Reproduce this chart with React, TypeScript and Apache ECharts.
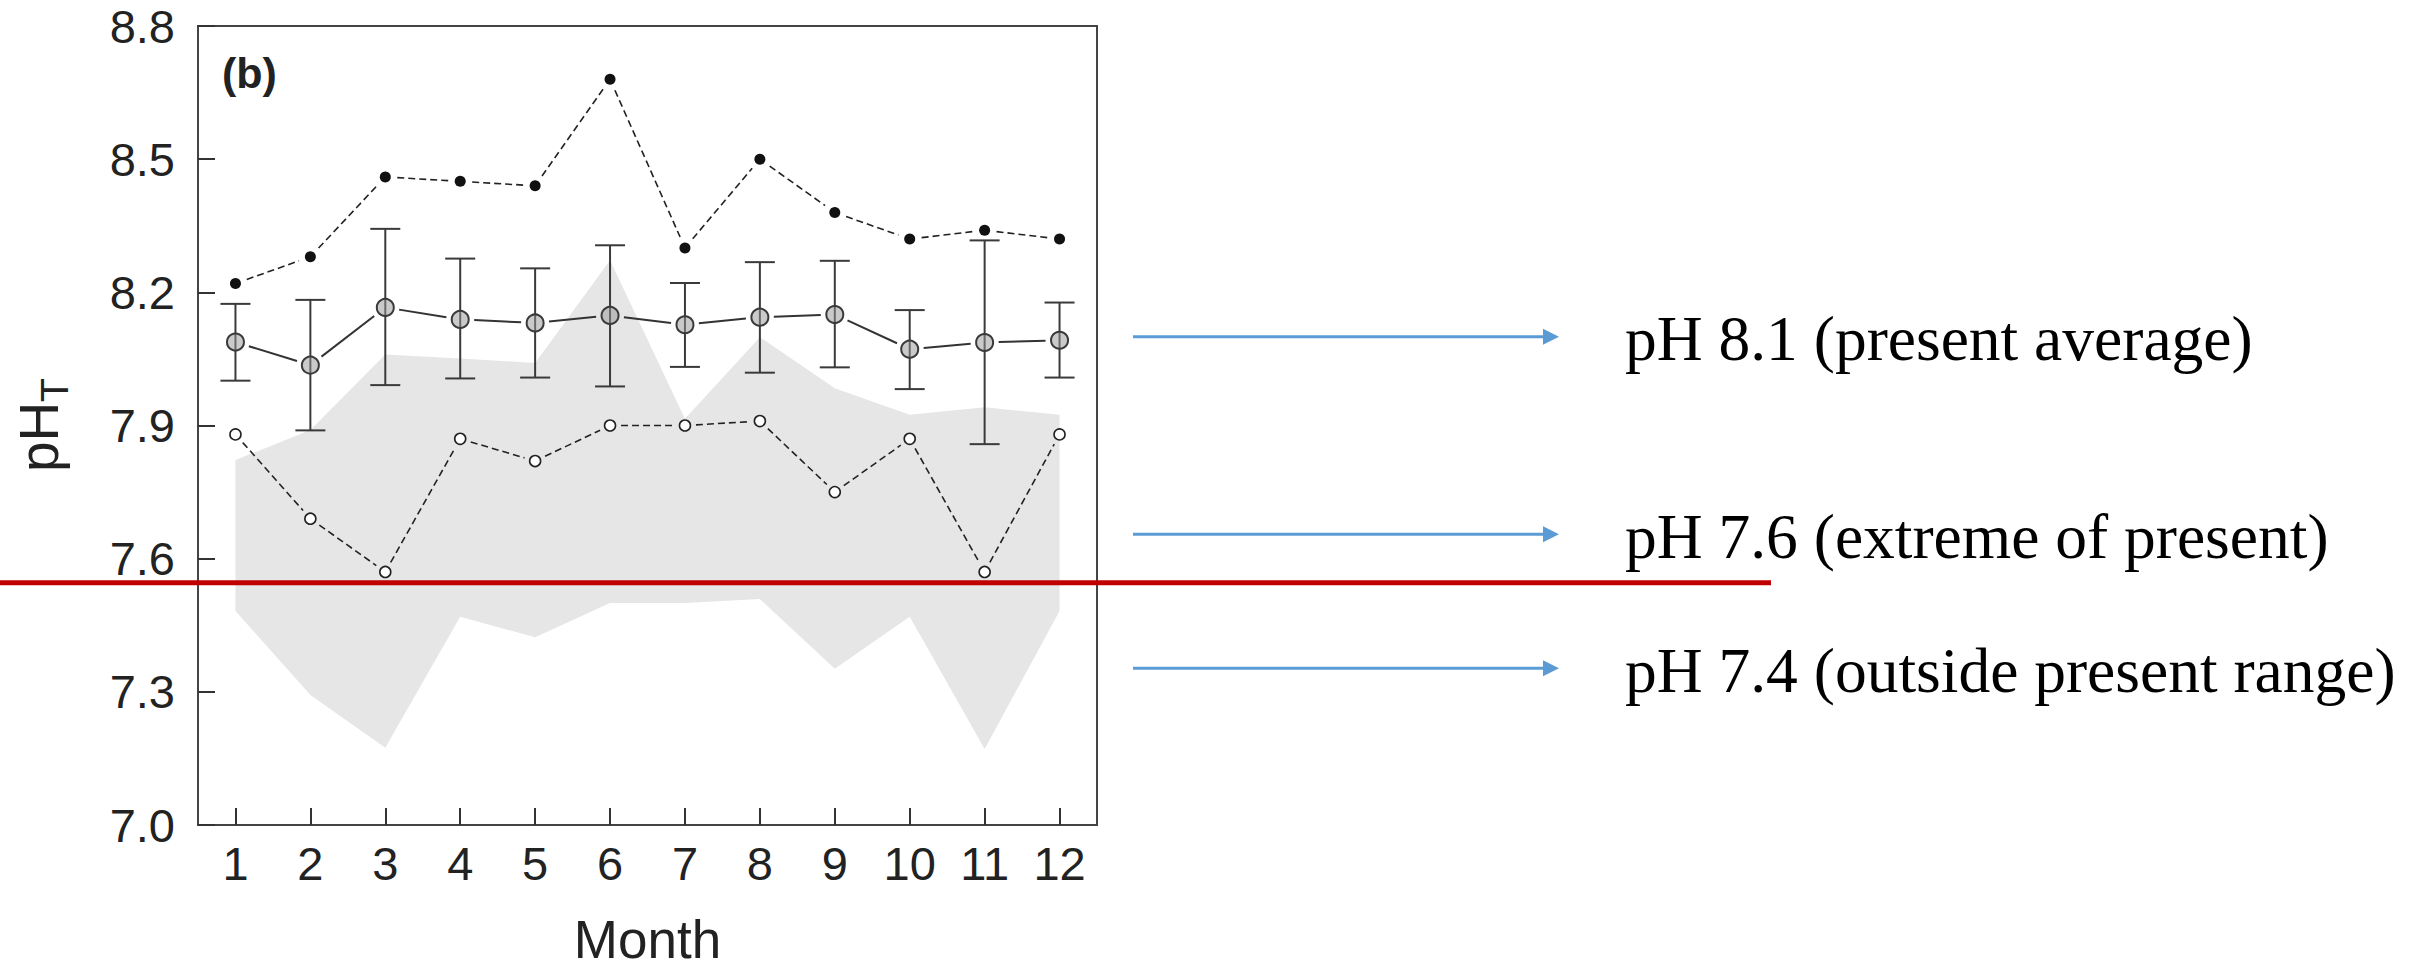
import React, { useEffect, useRef } from 'react';
import * as echarts from 'echarts';

// ---- data ----
const months = ['1', '2', '3', '4', '5', '6', '7', '8', '9', '10', '11', '12'];
const maxPH = [8.22, 8.28, 8.46, 8.45, 8.44, 8.68, 8.30, 8.50, 8.38, 8.32, 8.34, 8.32];
const meanPH = [8.088, 8.036, 8.166, 8.139, 8.131, 8.148, 8.127, 8.144, 8.150, 8.072, 8.087, 8.092];
const errLow = [8.001, 7.889, 7.991, 8.006, 8.008, 7.988, 8.032, 8.019, 8.031, 7.982, 7.858, 8.008];
const errHigh = [8.174, 8.183, 8.343, 8.276, 8.254, 8.306, 8.221, 8.268, 8.271, 8.160, 8.317, 8.177];
const minPH = [7.88, 7.69, 7.57, 7.87, 7.82, 7.90, 7.90, 7.91, 7.75, 7.87, 7.57, 7.88];
const bandUpper = [7.822, 7.890, 8.060, 8.051, 8.041, 8.272, 7.915, 8.099, 7.984, 7.924, 7.941, 7.924];
const bandLower = [7.482, 7.293, 7.174, 7.469, 7.423, 7.500, 7.500, 7.509, 7.352, 7.469, 7.171, 7.482];
const yMin = 7.0;
const yMax = 8.8;
const yStep = 0.3;
const annotationLevels = [8.1, 7.655, 7.353];
const annotationLabels = [
  'pH 8.1 (present average)',
  'pH 7.6 (extreme of present)',
  'pH 7.4 (outside present range)',
];
const thresholdPH = 7.546;

const SANS = '"Liberation Sans", Arial, sans-serif';
const SERIF = '"Liberation Serif", "Times New Roman", serif';
const INK = '#222';

function gapLine(values: number[], gap: number, dash: number[] | null, width: number, color: string, z: number) {
  return {
    type: 'custom',
    z,
    silent: true,
    coordinateSystem: 'cartesian2d',
    data: values.map((v, i) => [i, v]),
    encode: { x: 0, y: 1 },
    renderItem: (params: any, api: any) => {
      const i = params.dataIndex;
      if (i >= values.length - 1) return { type: 'group', children: [] };
      const a = api.coord([i, values[i]]);
      const b = api.coord([i + 1, values[i + 1]]);
      const dx = b[0] - a[0];
      const dy = b[1] - a[1];
      const L = Math.hypot(dx, dy);
      const ux = dx / L;
      const uy = dy / L;
      return {
        type: 'line',
        shape: { x1: a[0] + ux * gap, y1: a[1] + uy * gap, x2: b[0] - ux * gap, y2: b[1] - uy * gap },
        style: { stroke: color, lineWidth: width, lineDash: dash || undefined, fill: null },
      };
    },
  };
}

export default function App() {
  const ref = useRef<HTMLDivElement>(null);
  useEffect(() => {
    const chart = echarts.init(ref.current!, null, { renderer: 'svg' });
    chart.setOption({
      animation: false,
      backgroundColor: '#fff',
      grid: {
        left: 198,
        right: 1318,
        top: 26,
        bottom: 141,
        show: true,
        borderColor: '#444',
        borderWidth: 2,
        backgroundColor: 'transparent',
      },
      xAxis: {
        type: 'category',
        data: months,
        boundaryGap: true,
        axisLine: { show: true, lineStyle: { color: '#444', width: 2 } },
        axisTick: { show: true, inside: true, alignWithLabel: true, length: 17, lineStyle: { color: '#333', width: 2 } },
        axisLabel: { fontSize: 47, color: INK, fontFamily: SANS, margin: 15 },
        splitLine: { show: false },
        name: 'Month',
        nameLocation: 'middle',
        nameGap: 88,
        nameTextStyle: { fontSize: 53, color: INK, fontFamily: SANS },
      },
      yAxis: {
        type: 'value',
        min: yMin,
        max: yMax,
        interval: yStep,
        axisLine: { show: true, lineStyle: { color: '#444', width: 2 } },
        axisTick: { show: true, inside: true, length: 17, lineStyle: { color: '#333', width: 2 } },
        axisLabel: {
          fontSize: 47,
          lineHeight: 40,
          color: INK,
          fontFamily: SANS,
          margin: 23,
          formatter: (v: number) => v.toFixed(1),
        },
        splitLine: { show: false },
      },
      series: [
        {
          type: 'custom',
          z: 1,
          silent: true,
          coordinateSystem: 'cartesian2d',
          data: months.map((_, i) => [i, bandLower[i], bandUpper[i]]),
          encode: { x: 0, y: [1, 2] },
          renderItem: (params: any, api: any) => {
            if (params.dataIndex !== 0) return { type: 'group', children: [] };
            const pts: number[][] = [];
            for (let i = 0; i < months.length; i++) pts.push(api.coord([i, bandUpper[i]]));
            for (let i = months.length - 1; i >= 0; i--) pts.push(api.coord([i, bandLower[i]]));
            return { type: 'polygon', shape: { points: pts }, style: { fill: '#e6e6e6', stroke: null } };
          },
        },
        {
          type: 'custom',
          z: 2,
          silent: true,
          coordinateSystem: 'cartesian2d',
          data: months.map((_, i) => [i, errLow[i], errHigh[i]]),
          encode: { x: 0, y: [1, 2] },
          renderItem: (params: any, api: any) => {
            const i = api.value(0);
            const lo = api.coord([i, api.value(1)]);
            const hi = api.coord([i, api.value(2)]);
            const hw = 15;
            const st = { stroke: '#3a3a3a', lineWidth: 2 };
            return {
              type: 'group',
              children: [
                { type: 'line', shape: { x1: lo[0], y1: lo[1], x2: hi[0], y2: hi[1] }, style: st },
                { type: 'line', shape: { x1: lo[0] - hw, y1: lo[1], x2: lo[0] + hw, y2: lo[1] }, style: st },
                { type: 'line', shape: { x1: hi[0] - hw, y1: hi[1], x2: hi[0] + hw, y2: hi[1] }, style: st },
              ],
            };
          },
        },
        gapLine(maxPH, 12, [7, 4], 1.6, '#222', 3),
        gapLine(meanPH, 14, null, 2, '#333', 3),
        gapLine(minPH, 11, [7, 4], 1.6, '#222', 3),
        {
          type: 'scatter',
          z: 4,
          silent: true,
          data: maxPH,
          symbol: 'circle',
          symbolSize: 11,
          itemStyle: { color: '#111', opacity: 1 },
        },
        {
          type: 'scatter',
          z: 4,
          silent: true,
          data: meanPH,
          symbol: 'circle',
          symbolSize: 17,
          itemStyle: { color: 'rgba(150,150,150,0.5)', borderColor: '#3a3a3a', borderWidth: 2, opacity: 1 },
        },
        {
          type: 'scatter',
          z: 4,
          silent: true,
          data: minPH,
          symbol: 'circle',
          symbolSize: 11,
          itemStyle: { color: '#fff', borderColor: '#222', borderWidth: 1.6, opacity: 1 },
        },
      ],
    });

    const yOf = (v: number) => chart.convertToPixel({ yAxisIndex: 0 }, v) as number;
    const blue = '#5b9bd5';
    const graphics: any[] = [];
    // red threshold line
    const yr = yOf(thresholdPH);
    graphics.push({
      type: 'line',
      z: 100,
      shape: { x1: 0, y1: yr, x2: 1771, y2: yr },
      style: { stroke: '#c00000', lineWidth: 5 },
    });
    annotationLevels.forEach((lv, k) => {
      const y = yOf(lv);
      graphics.push({
        type: 'line',
        z: 100,
        shape: { x1: 1133, y1: y, x2: 1545, y2: y },
        style: { stroke: blue, lineWidth: 3 },
      });
      graphics.push({
        type: 'polygon',
        z: 100,
        shape: { points: [[1543, y - 8], [1559, y], [1543, y + 8]] },
        style: { fill: blue },
      });
      graphics.push({
        type: 'text',
        z: 100,
        x: 1625,
        y: y + 2,
        style: {
          text: annotationLabels[k],
          fontSize: 63.5,
          fontFamily: SERIF,
          fill: '#000',
          align: 'left',
          verticalAlign: 'middle',
        },
      });
    });
    // panel tag
    graphics.push({
      type: 'text',
      z: 100,
      x: 222,
      y: 73,
      style: { text: '(b)', fontSize: 43, fontWeight: 'bold', fontFamily: SANS, fill: INK, align: 'left', verticalAlign: 'middle' },
    });
    // y axis title pH with subscript T (rotated)
    graphics.push({
      type: 'group',
      x: 58,
      y: 472,
      rotation: Math.PI / 2,
      children: [
        {
          type: 'text',
          x: 0,
          y: -0.3465 * 55,
          style: { text: 'pH', fontSize: 55, fontFamily: SANS, fill: INK, align: 'left', verticalAlign: 'middle' },
        },
        {
          type: 'text',
          x: 70,
          y: 10 - 0.3465 * 39,
          style: { text: 'T', fontSize: 39, fontFamily: SANS, fill: INK, align: 'left', verticalAlign: 'middle' },
        },
      ],
    });
    chart.setOption({ graphic: graphics });

    return () => chart.dispose();
  }, []);
  return (
    <div
      ref={ref}
      style={{ position: 'absolute', left: 0, top: 0, width: 2415, height: 971, background: '#fff' }}
    />
  );
}
